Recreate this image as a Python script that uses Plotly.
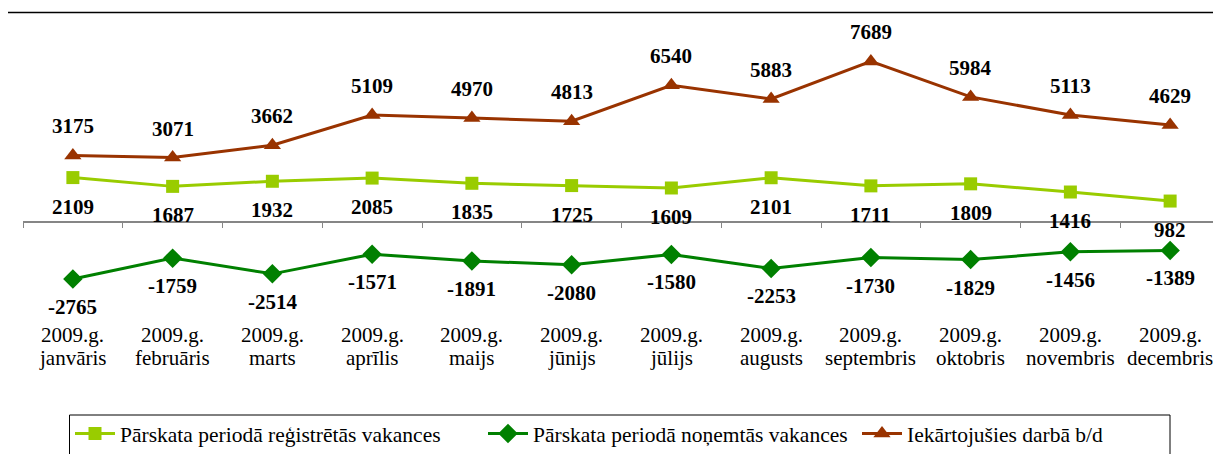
import plotly.graph_objects as go

W, H = 1221, 454
OFF = 8  # page body margin offset

months = ["janvāris", "februāris", "marts", "aprīlis", "maijs", "jūnijs",
          "jūlijs", "augusts", "septembris", "oktobris", "novembris", "decembris"]
year_prefix = "2009.g."
categories = [f"{year_prefix} {m}" for m in months]

registered = [2109, 1687, 1932, 2085, 1835, 1725, 1609, 2101, 1711, 1809, 1416, 982]
removed = [-2765, -1759, -2514, -1571, -1891, -2080, -1580, -2253, -1730, -1829, -1456, -1389]
employed = [3175, 3071, 3662, 5109, 4970, 4813, 6540, 5883, 7689, 5984, 5113, 4629]

names = ["Pārskata periodā reģistrētās vakances",
         "Pārskata periodā noņemtās vakances",
         "Iekārtojušies darbā b/d"]

C_LIGHT = "#99CC00"
C_DARK = "#008000"
C_BROWN = "#993300"

SERIF = "Liberation Serif"


def px(p):
    return p - OFF


def py_paper(p):
    return 1 - (p - OFF) / H


def px_paper(p):
    return (p - OFF) / W


zero_px = px(221.5)
px_per_unit = 94.0 / (7689 - 3175)
y_top = zero_px / px_per_unit
y_bot = -(H - zero_px) / px_per_unit

fig = go.Figure()
fig.add_trace(go.Scatter(x=categories, y=registered, name=names[0], mode="lines+markers",
                         line=dict(color=C_LIGHT, width=3),
                         marker=dict(symbol="square", size=13, color=C_LIGHT),
                         legend="legend"))
fig.add_trace(go.Scatter(x=categories, y=removed, name=names[1], mode="lines+markers",
                         line=dict(color=C_DARK, width=3),
                         marker=dict(symbol="diamond", size=15, color=C_DARK),
                         legend="legend2"))
fig.add_trace(go.Scatter(x=categories, y=employed, name=names[2], mode="lines+markers",
                         line=dict(color=C_BROWN, width=3),
                         marker=dict(symbol="triangle-up", size=15, color=C_BROWN),
                         legend="legend3"))

ann = []
lab_font = dict(family=SERIF, size=21, color="black", weight="bold")
for c, v in zip(categories, employed):
    ann.append(dict(x=c, y=v, text=str(v), showarrow=False, yshift=29, font=lab_font))
for c, v in zip(categories, registered):
    ann.append(dict(x=c, y=v, text=str(v), showarrow=False, yshift=-29, font=lab_font))
for c, v in zip(categories, removed):
    ann.append(dict(x=c, y=v, text=str(v), showarrow=False, yshift=-28, font=lab_font))
cat_font = dict(family=SERIF, size=21, color="black")
for c, m in zip(categories, months):
    ann.append(dict(x=c, y=py_paper(335), yref="paper", yanchor="middle",
                    text=year_prefix, showarrow=False, font=cat_font))
    ann.append(dict(x=c, y=py_paper(358), yref="paper", yanchor="middle",
                    text=m, showarrow=False, font=cat_font))


def leg(xpix):
    return dict(orientation="h", x=px_paper(xpix), y=py_paper(413), xanchor="left",
                yanchor="top", borderwidth=0, bgcolor="rgba(0,0,0,0)",
                font=dict(family=SERIF, size=21.5, color="black"), itemwidth=40)


fig.update_layout(
    width=W, height=H,
    margin=dict(l=0, r=0, t=0, b=0),
    paper_bgcolor="white", plot_bgcolor="white",
    font=dict(family=SERIF),
    xaxis=dict(domain=[px_paper(23), px_paper(1220)], type="category", range=[-0.5, 11.5],
               anchor="free", position=1 - zero_px / H,
               showline=True, linecolor="#868686", linewidth=1.5,
               ticks="outside", ticklen=6, tickcolor="#868686", tickson="boundaries",
               showticklabels=False, showgrid=False, zeroline=False),
    yaxis=dict(domain=[0, 1], range=[y_bot, y_top], visible=False, showgrid=False,
               zeroline=False),
    showlegend=True,
    legend=leg(70),
    legend2=leg(483),
    legend3=leg(857),
    annotations=ann,
    shapes=[dict(type="rect", xref="paper", yref="paper",
                 x0=px_paper(6.5), x1=1.02, y0=-0.05, y1=py_paper(12.5),
                 line=dict(color="black", width=1.5)),
            dict(type="rect", xref="paper", yref="paper",
                 x0=px_paper(69.5), x1=px_paper(1170), y0=-0.05, y1=py_paper(415),
                 line=dict(color="black", width=1))],
)

fig.write_html("out.html")
